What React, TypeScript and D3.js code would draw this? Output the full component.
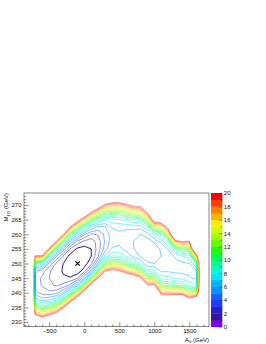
import { useEffect, useRef } from 'react';
import * as d3 from 'd3';

// grid of the chi2 scan: A0 columns (GeV) and M1/2 rows (GeV), rows listed from top to bottom
const a0Grid = [-800, -700, -600, -500, -400, -300, -200, -100, 0, 100, 200, 300, 400, 500, 600, 700, 800, 900, 1000, 1100, 1200, 1300, 1400, 1500, 1600, 1700];
const m12Grid = [275, 272.5, 270, 267.5, 265, 262.5, 260, 257.5, 255, 252.5, 250, 247.5, 245, 242.5, 240, 237.5, 235, 232.5, 230, 227.5];

const chi2Rows = [
  [99, 99, 99, 99, 99, 99, 99, 99, 85.9, 68.4, 56.4, 45.4, 39.5, 38.1, 42.7, 46.6, 46.7, 67.3, 99, 99, 99, 99, 99, 99, 99, 40],
  [99, 99, 99, 99, 99, 99, 99, 77.9, 61.2, 47.5, 37.9, 29.9, 26.3, 25.7, 28.9, 31.8, 32.4, 46.9, 90, 83, 99, 99, 99, 99, 99, 40],
  [99, 99, 99, 99, 99, 99, 73.8, 54.5, 41.7, 31.4, 24.3, 18.9, 17.1, 16.9, 19.0, 21.1, 21.7, 31.5, 60.6, 57.4, 80.6, 99, 99, 99, 99, 40],
  [99, 99, 99, 99, 99, 99, 50.4, 36.3, 26.9, 19.6, 14.7, 11.6, 11.1, 11.2, 12.4, 13.6, 14.2, 20.4, 38.6, 38.0, 54.7, 99, 99, 99, 99, 40],
  [99, 99, 99, 99, 99, 56.6, 32.6, 22.7, 16.2, 11.3, 8.4, 7.2, 7.7, 7.9, 8.3, 9.0, 9.3, 12.8, 23.3, 24.2, 35.5, 93, 93.8, 77.5, 99, 40],
  [99, 99, 99, 99, 58, 35.4, 19.6, 13.0, 8.8, 5.9, 4.8, 5.0, 6.1, 6.3, 6.3, 6.4, 6.4, 8.0, 13.4, 14.9, 22.1, 57.1, 59.5, 51, 99, 40],
  [99, 99, 99, 60, 35.2, 20.5, 10.6, 6.6, 4.2, 2.9, 3.1, 4.3, 5.6, 5.8, 5.5, 5.3, 5.0, 5.5, 7.7, 9.2, 13.4, 32.7, 35.5, 31.9, 99, 40],
  [99, 69, 74, 35, 19.5, 10.6, 5.0, 2.7, 1.7, 1.4, 2.5, 4.2, 5.6, 5.8, 5.4, 5.0, 4.5, 4.5, 5.2, 6.3, 8.4, 17.6, 20.0, 19.2, 63.6, 40],
  [99, 38.2, 39.8, 18.4, 9.6, 4.8, 1.9, 0.8, 0.6, 1.0, 2.5, 4.5, 6.1, 6.2, 5.6, 5.05, 4.5, 4.3, 4.4, 5.2, 6.1, 9.5, 11.1, 11.4, 33.5, 40],
  [99, 18.8, 18.7, 8.6, 4.2, 1.9, 0.6, 0.1, 0.4, 1.0, 3.0, 6.3, 8.1, 8.0, 6.8, 5.8, 4.9, 4.4, 4.4, 5.0, 5.4, 6.2, 7.0, 7.5, 16.3, 40],
  [99, 8.5, 7.7, 3.7, 1.9, 1.0, 0.35, 0.05, 0.5, 1.7, 5.3, 10.9, 12.8, 12.2, 10.2, 8.5, 6.9, 5.2, 5.0, 5.1, 5.4, 5.6, 5.8, 6.0, 8.2, 40],
  [99, 4.3, 3.5, 2.15, 1.4, 0.9, 0.4, 0.3, 1.5, 4.4, 10.7, 19.5, 21.2, 20.0, 16.7, 14.2, 11.8, 7.5, 7.1, 5.8, 5.8, 5.7, 5.7, 5.8, 5.9, 40],
  [99, 3.5, 2.8, 2.0, 1.45, 1.1, 1.1, 1.9, 4.8, 10.8, 20.5, 33.7, 34.5, 32.3, 27.4, 24.1, 20.9, 12.3, 11.9, 7.6, 7.3, 6.8, 6.5, 6.1, 5.8, 40],
  [99, 3.6, 2.9, 2.2, 1.9, 2.3, 3.4, 5.8, 11.6, 22.2, 36.1, 54.5, 53.7, 50.2, 43.4, 39.3, 35.5, 20.4, 20.4, 11.3, 10.9, 10.1, 9.5, 7.9, 7.2, 40],
  [99, 4.35, 3.6, 3.3, 3.6, 5.2, 8.2, 13.3, 23.3, 40.3, 58.9, 83.5, 80, 74.8, 65.9, 61, 56.8, 32.7, 33.9, 17.4, 17.2, 16.9, 16.6, 12.8, 13.1, 40],
  [99, 6.7, 5.6, 6.1, 7.0, 10.5, 16.5, 25.5, 41.2, 66.3, 90, 99, 99, 99, 99, 99, 86, 50.1, 53.3, 26.6, 27.3, 28.4, 29.4, 22.4, 26.5, 40],
  [99, 11.5, 9.7, 11.3, 13.0, 19.1, 29.2, 43.5, 66.5, 99, 99, 99, 99, 99, 99, 99, 99, 73.4, 79.8, 39.4, 41.8, 45.8, 49.5, 38.2, 50.6, 40],
  [99, 19.6, 16.4, 19.6, 22.1, 31.8, 47.2, 68.5, 99, 99, 99, 99, 99, 99, 99, 99, 99, 99, 99, 56.4, 61.6, 70.3, 78.5, 61.7, 88.6, 40],
  [99, 31.9, 26.5, 31.8, 35.1, 49.4, 71.5, 99, 99, 99, 99, 99, 99, 99, 99, 99, 99, 99, 99, 78.4, 87.7, 99, 99, 99, 99, 40],
  [99, 49.3, 40.6, 48.7, 52.6, 72.5, 99, 99, 99, 99, 99, 99, 99, 99, 99, 99, 99, 99, 99, 99, 99, 99, 99, 99, 99, 40],
];

const contourLevels = [1, 2, 3, 4, 5, 6, 7, 8, 9, 10, 11, 12, 13, 14, 15, 16, 17, 18, 19, 20];
// one colour per unit band of the palette, 0..20
const paletteColors = [
  '#8000ff', '#33189a', '#2a1fd0', '#1f3cff', '#1560ff', '#0a90ff', '#00b4ff', '#00e6ff', '#00ffcc', '#00ff90',
  '#00ff48', '#20ff00', '#66ff00', '#a0ff00', '#d0ff00', '#ffee00', '#ffb400', '#ff8000', '#ff4000', '#ff0000',
];
const xTicks = [-500, 0, 500, 1000, 1500];
const yTicks = [230, 235, 240, 245, 250, 255, 260, 265, 270];
const zTicks = [0, 2, 4, 6, 8, 10, 12, 14, 16, 18, 20];
const bestFit = { a0: -95, m12: 250 };

const W = 266;
const H = 344;
const frame = { left: 24, right: 209, top: 193, bottom: 326.7 };
const bar = { left: 211, right: 222.3 };
const font = "'Liberation Sans', Arial, Helvetica, sans-serif";

function ContourChart() {
  const svgRef = useRef(null);

  useEffect(() => {
    const svg = d3.select(svgRef.current);
    svg.selectAll('*').remove();
    svg.append('rect').attr('width', W).attr('height', H).attr('fill', '#fff');

    const x = d3.scaleLinear().domain([-860, 1780]).range([frame.left, frame.right]);
    const y = d3.scaleLinear().domain([228.4, 274.1]).range([frame.bottom, frame.top]);
    const z = d3.scaleLinear().domain([0, 20]).range([frame.bottom, frame.top]);
    const color = d3.scaleQuantize().domain([0, 20]).range(paletteColors);

    svg.append('clipPath').attr('id', 'plot-clip')
      .append('rect')
      .attr('x', frame.left).attr('y', frame.top)
      .attr('width', frame.right - frame.left).attr('height', frame.bottom - frame.top);

    // contours of chi2 (negated so each level encloses the low region)
    const nx = a0Grid.length;
    const ny = m12Grid.length;
    const values = chi2Rows.flat().map(v => -v);
    const bands = d3.contours().size([nx, ny]).thresholds(contourLevels.map(l => -l))(values);
    const da = a0Grid[1] - a0Grid[0];
    const dm = m12Grid[1] - m12Grid[0];
    const toScreen = d3.geoTransform({
      point: function (px, py) {
        this.stream.point(x(a0Grid[0] + (px - 0.5) * da), y(m12Grid[0] + (py - 0.5) * dm));
      },
    });
    const path = d3.geoPath(toScreen);

    svg.append('g')
      .attr('clip-path', 'url(#plot-clip)')
      .selectAll('path')
      .data(bands)
      .join('path')
      .attr('d', path)
      .attr('fill', 'none')
      .attr('stroke', d => color(-d.value))
      .attr('stroke-opacity', d => (-d.value === 1 ? 1 : -d.value >= 16 ? 0.6 : 0.85))
      .attr('stroke-width', d => (-d.value === 1 ? 1.0 : 0.6))
      .attr('stroke-linejoin', 'round');

    // best fit point
    const bx = x(bestFit.a0);
    const by = y(bestFit.m12);
    svg.append('path')
      .attr('d', `M${bx - 2.2},${by - 2.2}L${bx + 2.2},${by + 2.2}M${bx - 2.2},${by + 2.2}L${bx + 2.2},${by - 2.2}`)
      .attr('stroke', '#000')
      .attr('stroke-width', 1.1);

    // frame
    svg.append('rect')
      .attr('x', frame.left).attr('y', frame.top)
      .attr('width', frame.right - frame.left).attr('height', frame.bottom - frame.top)
      .attr('fill', 'none').attr('stroke', '#333').attr('stroke-width', 0.6);

    const styleAxis = g => {
      g.select('.domain').remove();
      g.attr('font-family', font).attr('font-size', 6);
      g.selectAll('line').attr('stroke', '#333').attr('stroke-width', 0.55);
      g.selectAll('text').attr('fill', '#111');
    };

    // y axis
    svg.append('g')
      .attr('transform', `translate(${frame.left},0)`)
      .call(d3.axisLeft(y).tickValues(yTicks).tickSize(-4.5).tickPadding(2.5).tickFormat(d3.format('d')))
      .call(styleAxis);
    svg.append('g')
      .attr('transform', `translate(${frame.left},0)`)
      .call(d3.axisLeft(y).tickValues(d3.range(229, 274).filter(v => v % 5 !== 0)).tickSize(-2.3).tickFormat(() => ''))
      .call(styleAxis);

    // x axis
    svg.append('g')
      .attr('transform', `translate(0,${frame.bottom})`)
      .call(d3.axisBottom(x).tickValues(xTicks).tickSize(-4.5).tickPadding(2).tickFormat(d3.format('d')))
      .call(styleAxis);
    svg.append('g')
      .attr('transform', `translate(0,${frame.bottom})`)
      .call(d3.axisBottom(x).tickValues(d3.range(-800, 1800, 100).filter(v => v % 500 !== 0)).tickSize(-2.3).tickFormat(() => ''))
      .call(styleAxis);

    // palette
    svg.append('g')
      .selectAll('rect')
      .data(paletteColors)
      .join('rect')
      .attr('x', bar.left)
      .attr('y', (c, i) => z(i + 1))
      .attr('width', bar.right - bar.left)
      .attr('height', (c, i) => z(i) - z(i + 1) + 0.3)
      .attr('fill', c => c);
    svg.append('g')
      .attr('transform', `translate(${bar.right},0)`)
      .call(d3.axisRight(z).tickValues(zTicks).tickSize(-3.5).tickPadding(1.5).tickFormat(d3.format('d')))
      .call(styleAxis);
    svg.append('g')
      .attr('transform', `translate(${bar.right},0)`)
      .call(d3.axisRight(z).tickValues(d3.range(1, 20, 2)).tickSize(-1.8).tickFormat(() => ''))
      .call(styleAxis);

    // axis titles
    const yTitle = svg.append('text')
      .attr('transform', `translate(8.3,${frame.top}) rotate(-90)`)
      .attr('text-anchor', 'end')
      .attr('font-family', font)
      .attr('font-size', 6)
      .attr('fill', '#111');
    yTitle.append('tspan').text('M');
    yTitle.append('tspan').attr('font-size', 4.2).attr('dy', 1.4).text('1/2');
    yTitle.append('tspan').attr('dy', -1.4).text(' (GeV)');

    const xTitle = svg.append('text')
      .attr('x', frame.right)
      .attr('y', 342)
      .attr('text-anchor', 'end')
      .attr('font-family', font)
      .attr('font-size', 6)
      .attr('fill', '#111');
    xTitle.append('tspan').text('A');
    xTitle.append('tspan').attr('font-size', 4.2).attr('dy', 1.4).text('0');
    xTitle.append('tspan').attr('dy', -1.4).text(' (GeV)');
  }, []);

  return (
    <svg
      ref={svgRef}
      width={W}
      height={H}
      style={{ position: 'absolute', left: 0, top: 0, display: 'block' }}
    />
  );
}

export default function App() {
  return <ContourChart />;
}
